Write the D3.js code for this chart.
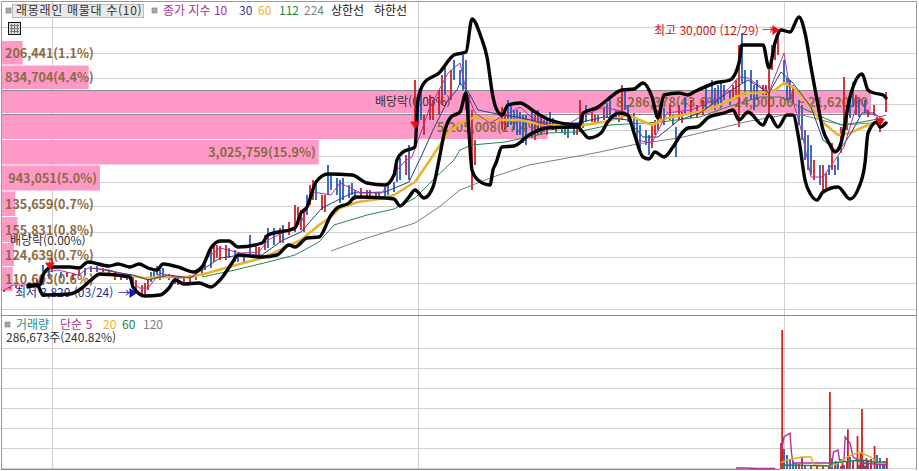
<!DOCTYPE html>
<html lang="ko"><head><meta charset="utf-8">
<script src="https://cdn.jsdelivr.net/npm/d3@7/dist/d3.min.js"></script>
<style>html,body{margin:0;background:#fff;overflow:hidden}svg{display:block}
text{font-family:"Noto Sans CJK KR","Noto Sans",sans-serif}</style></head>
<body><svg id="c" width="919" height="471"></svg>
<script>
const gridPrices=[30300,27700,25200,22600,20000,17400,14800,12400,9800,7300,4700,2100];
const gridDays=[17,139,261];
const volGrid=[0,41000,82500,123700,165000,206200,247400];
const profileEdges=[28900,26450,24000,21600,19000,16450,13850,11300,8700,6300,3800];
const profileVolumes=[206441,834704,8286378,5205008,3025759,943051,135659,155831,124639,110603];
const profileLabels=["206,441(1.1%)","834,704(4.4%)","8,286,378(43.6%)\u00a0\u00a0\u00a024,000.00 ~ 21,620.00","5,205,008(27.4%)","3,025,759(15.9%)","943,051(5.0%)","135,659(0.7%)","155,831(0.8%)","124,639(0.7%)","110,603(0.6%)"];
// [day, high, low, up]
const candles=[[1,4000,3800,1],[3,4300,4100,1],[5,4500,4200,1],[7,4500,4300,1],[9,4500,4300,0],[11,4400,4200,1],[12,5000,4200,1],[14,6500,4500,0],[16,6000,5200,0],[17,7200,5800,1],[20,5800,5200,0],[22,5800,5300,1],[24,5600,5000,1],[26,6000,5400,1],[28,6200,5500,0],[30,6400,5800,0],[32,6400,5800,0],[34,6200,5800,1],[36,6000,5500,1],[38,5800,5000,1],[40,5500,5000,1],[42,5500,5000,0],[44,5300,4700,1],[45,5000,3800,1],[47,4500,3500,1],[48,4700,3500,1],[49,5200,4000,1],[50,5800,4800,0],[51,6000,5200,0],[52,6400,5500,0],[53,6000,5000,0],[54,6200,5400,0],[56,5600,5000,0],[58,5200,4600,1],[59,5200,4500,1],[61,5400,4800,1],[63,5500,4800,1],[65,5800,5000,1],[67,6200,5400,1],[68,6800,6000,0],[70,8000,6200,0],[71,8700,6800,1],[72,8500,7200,1],[73,8400,7000,1],[75,8500,7000,1],[76,8200,7200,0],[78,8000,6800,0],[79,7700,6800,0],[81,7500,6800,0],[83,9500,7500,0],[85,8500,7200,1],[86,8300,7300,1],[88,9500,8000,1],[89,10200,8200,0],[91,10200,8500,0],[93,10200,8700,1],[94,10500,8700,0],[96,10800,9500,1],[98,12500,9800,1],[99,12300,10500,1],[100,12000,10000,1],[101,11800,9800,1],[102,13500,11500,0],[103,14500,12500,1],[104,15000,13000,1],[105,14700,13000,0],[107,13500,12000,1],[108,13500,11800,1],[109,16500,13500,0],[110,15500,14000,0],[112,15200,13500,0],[113,15000,12700,0],[114,15200,13000,0],[116,14500,13200,0],[117,14700,13500,0],[118,14000,13000,0],[120,14200,13200,1],[122,14000,13300,1],[123,14000,13200,1],[125,13800,13000,0],[126,13800,13000,1],[128,14300,13300,0],[129,14500,13500,0],[131,14800,13800,0],[132,16500,14800,0],[133,17200,15000,0],[135,17500,15500,1],[136,18500,15000,0],[138,25000,20300,1],[139,23500,20500,0],[140,24000,21000,0],[141,21500,19500,1],[143,23500,21000,1],[144,23000,21000,1],[146,24000,21500,1],[147,25500,22500,1],[148,26500,23500,0],[150,26000,23000,1],[151,27000,25000,0],[153,26000,24500,0],[154,27500,24000,0],[155,27000,22000,0],[156,23500,19000,1],[157,22000,14000,1],[158,19000,16500,1],[167,22300,20000,1],[168,21800,20000,1],[169,23000,20300,0],[170,22500,20500,0],[171,22000,20000,0],[172,22000,19500,0],[173,21800,19500,0],[174,21500,18700,0],[175,21500,18500,0],[177,22200,19200,0],[178,21500,19000,1],[179,22000,19500,0],[180,21500,19500,1],[181,21000,19800,0],[182,21000,19500,1],[183,21800,20200,0],[184,21200,20000,0],[185,20800,19800,1],[187,20700,19800,0],[188,20800,19500,0],[189,20800,19200,0],[191,20500,19500,0],[192,20500,19500,1],[193,23000,20000,1],[194,21500,20200,0],[195,22500,20800,0],[197,21800,20800,1],[198,21500,20700,1],[199,21500,20800,0],[201,22200,21000,1],[202,22700,21200,0],[203,23000,21200,0],[205,22000,21000,0],[206,21500,20800,1],[207,24500,21000,1],[208,24200,22000,0],[209,22500,20800,0],[211,21700,20000,0],[212,21200,19000,0],[213,20500,18000,0],[215,20000,18500,0],[216,19500,17500,0],[217,20500,18200,1],[218,21000,19500,1],[219,22000,20000,1],[220,22500,20800,1],[221,22200,20500,0],[223,22500,21000,1],[224,21500,20500,0],[225,20300,17300,0],[226,22500,21000,1],[227,21800,20700,1],[228,23200,21500,0],[230,23000,21200,1],[232,22500,21200,1],[234,23000,21500,1],[235,24500,22000,0],[237,25000,22500,0],[238,24200,22000,0],[239,24500,22500,0],[240,25000,22300,0],[241,24500,23000,0],[243,24000,22500,0],[244,24500,23000,1],[245,25000,23500,1],[246,28500,20300,1],[247,29700,24700,0],[248,26000,23500,0],[250,26000,23000,0],[251,24500,22000,0],[252,25000,23000,0],[254,24500,23500,1],[255,24500,23500,1],[256,26000,21500,1],[257,28500,26000,1],[258,28500,27000,1],[259,29500,27500,1],[261,27000,24500,0],[262,25200,23000,0],[263,25000,23000,0],[264,24500,22800,1],[266,23000,20500,0],[267,22500,19000,0],[268,20000,17000,0],[269,19500,16000,0],[270,18500,15500,0],[271,17000,15000,1],[273,16500,14500,0],[274,16500,14000,1],[275,15700,14000,1],[276,16500,15500,0],[277,18700,16000,1],[278,16500,15500,0],[279,17300,16000,0],[280,20300,17700,1],[281,25300,20000,1],[282,22000,20000,1],[283,23500,21200,0],[284,24800,22300,0],[285,23500,21500,1],[286,23000,21300,0],[288,23000,21700,0],[289,22000,21300,1],[291,22500,21500,1],[292,21300,20500,1],[293,20700,19800,1],[295,23800,21800,1]];
const upperBand=[[9,4500],[13,4500],[14,5500],[17,6300],[23,6300],[26,6200],[29,6800],[36,6400],[39,6600],[43,6300],[46,6600],[49,6200],[52,6000],[54,6600],[60,6200],[64,5800],[67,6300],[70,8200],[73,8900],[76,8900],[79,8300],[87,8700],[89,9500],[98,10200],[100,11700],[102,12300],[105,14800],[109,15600],[117,15500],[122,14700],[128,14500],[131,15500],[132,17000],[134,17800],[138,18300],[139,23000],[141,24700],[146,25700],[151,27500],[155,27800],[157,31100],[160,29300],[162,27300],[164,23300],[165,22200],[167,21500],[169,22500],[173,22700],[178,21800],[183,21000],[193,20500],[194,21700],[199,22300],[202,23000],[207,24000],[211,24100],[214,24700],[217,23300],[219,21200],[221,23500],[226,23700],[229,23500],[231,23800],[238,24700],[243,25000],[246,26700],[247,28500],[251,28500],[254,28500],[256,26200],[258,28700],[260,30000],[263,29800],[266,31300],[268,29700],[270,26300],[272,23000],[274,20000],[276,18700],[278,17800],[280,18700],[283,23300],[285,25000],[287,25600],[289,24000],[291,23700],[294,23500],[295,23200]];
const lowerBand=[[9,4300],[12,4500],[14,3500],[23,3600],[27,4200],[30,5000],[33,5600],[43,5300],[44,4300],[48,3400],[53,3500],[56,4200],[58,5000],[61,4600],[66,4700],[70,4300],[73,5000],[77,6700],[79,7500],[87,7300],[92,7500],[96,8500],[98,8300],[102,9200],[106,9300],[110,11500],[112,12200],[116,12700],[118,13300],[128,13200],[131,13100],[133,12400],[136,13300],[138,14000],[141,13200],[144,14300],[146,17000],[148,20000],[150,21300],[153,21800],[155,23700],[156,19700],[157,16000],[159,15000],[163,14500],[164,16000],[165,16700],[167,18300],[171,18400],[176,19500],[182,20200],[192,20300],[196,19200],[200,19700],[202,20700],[206,21700],[209,21500],[211,19700],[214,17300],[216,17100],[218,17800],[221,17300],[224,18300],[227,19700],[229,20200],[232,20300],[236,21300],[241,21700],[244,22000],[246,21000],[249,21800],[254,20500],[256,21500],[259,20300],[262,21500],[264,21500],[266,19000],[268,15000],[270,13500],[272,13000],[274,13800],[279,14300],[283,13100],[286,14300],[288,16700],[289,19700],[292,20800],[293,20300],[295,20700]];
const ma10=[[1,4000],[4,4500],[12,4500],[14,5700],[19,6000],[26,5500],[29,6200],[36,6000],[42,5500],[46,4200],[49,4200],[53,5700],[59,5200],[64,5300],[69,7300],[73,8200],[80,7700],[86,7800],[89,9000],[97,10200],[100,10700],[104,13800],[110,13500],[113,14700],[120,13700],[127,13700],[132,16000],[135,17000],[137,17300],[143,22300],[149,25700],[153,26700],[155,24000],[158,21700],[163,20700],[168,21500],[173,22300],[179,20700],[187,20200],[193,21300],[201,22300],[208,21800],[212,19000],[217,18700],[222,21700],[230,22000],[240,23300],[246,25300],[249,25200],[256,23800],[261,27700],[263,24000],[267,19700],[270,15300],[274,15300],[278,17000],[281,18300],[286,23300],[289,21700],[293,21300],[295,21500]];
const ma30=[[31,6200],[38,5800],[44,5500],[49,5000],[56,5500],[63,5200],[68,6200],[73,7200],[80,7500],[87,7500],[94,9000],[100,9800],[107,12200],[111,12800],[117,13700],[128,13800],[136,14800],[139,16700],[140,17300],[144,20000],[149,23000],[152,24000],[153,24700],[156,23700],[159,22000],[167,21500],[172,21300],[181,20700],[192,20700],[201,21300],[209,21000],[214,19300],[219,19300],[226,21000],[233,21700],[242,23700],[249,25000],[256,23700],[260,25800],[264,24700],[270,22300],[274,19000],[279,17800],[283,19500],[287,21700],[291,21700],[294,21000]];
const ma60=[[33,5500],[42,5500],[48,5200],[56,5300],[63,5300],[69,5700],[76,6300],[87,7200],[93,8000],[100,9000],[106,10500],[110,11300],[113,12200],[119,12800],[126,13100],[131,13500],[138,14800],[143,17000],[149,19700],[153,20700],[158,21300],[165,21000],[173,21000],[181,20500],[192,20400],[201,20800],[209,21500],[213,21000],[217,20500],[222,21200],[231,21700],[238,22300],[248,23700],[253,23700],[258,24000],[261,24700],[264,24300],[269,22700],[273,21000],[279,19500],[283,19700],[289,20500],[294,20900]];
const ma112=[[67,5300],[78,6000],[89,6800],[98,7500],[106,8800],[111,10500],[122,11500],[131,12100],[138,13200],[144,15000],[151,17000],[153,18000],[157,18500],[168,18800],[182,19700],[192,19800],[203,20500],[220,20800],[233,21300],[242,22300],[253,23300],[260,23300],[267,22200],[276,21000],[280,20500],[287,20800],[294,21200]];
const ma224=[[110,7900],[122,9200],[138,10700],[146,12300],[153,14000],[164,15300],[176,16500],[198,17700],[212,18600],[226,19200],[240,20200],[248,20800],[261,21500],[267,21500],[276,20800],[281,20500],[294,20800]];
// [day, volume, up]
const volumeBars=[[260,53600,1],[260.4,286673,1],[261,41000,0],[262,29000,0],[263,20600,0],[264,16500,0],[265,12400,0],[266,10300,1],[267,24700,1],[268,8200,0],[270,8200,1],[272,8200,1],[274,6200,1],[276,8200,0],[278,6200,1],[280,6200,1],[282,6200,0],[284,6200,1],[286,8200,0],[288,6200,1],[290,6200,1],[292,8200,1],[294,8200,0],[276.3,159000,1],[277,22700,0],[278.2,16500,0],[279,14400,0],[280.5,12400,1],[281,8200,0],[282,14400,1],[282.3,82000,1],[283,24700,0],[284,16500,1],[285.5,68000,1],[286.5,33000,1],[287,124000,1],[287.5,16500,0],[288.5,22700,1],[289,18500,0],[290,20600,1],[291.2,47400,1],[292,29000,0],[293,22700,0],[294.5,16500,0],[295.3,22700,1]];
const volMa5=[[260,33000],[261,66000],[263,74000],[263.5,33000],[264,12400],[277,12400],[277.5,35000],[279,39000],[279.5,18500],[281,18500],[281.4,66000],[283,53600],[284,25000],[287,12400],[295,8200]];
const volMa20=[[260,12400],[262,18500],[267,24700],[270,24700],[271,8200],[277,6200],[279,12400],[282,24700],[286,35000],[290,24700],[292,12400],[295,12400]];
const volMa60=[[260,4100],[261,8200],[276,6200],[277,12400],[287,18500],[291,14400],[295,14400]];
const volFlat=[[245,2000],[248,2000],[252,1000],[258,1000]];
const priceLegend=[["종가 지수 10","#a8309a",163],["30","#1f3f8f",239],["60","#e8b52e",258],["112","#23864f",279],["224","#808080",304],["상한선","#111",331],["하한선","#111",374]];
const volLegend=[["거래량","#2c8a8a",16],["단순 5","#a8309a",60],["20","#e8b52e",103],["60","#23864f",122],["120","#808080",143]];

const svg=d3.select("#c");
const x=d3.scaleLinear().domain([0,295]).range([1,886]);
const y=d3.scaleLinear().domain([0,33000]).range([330,0]);
const v=d3.scaleLinear().domain([0,286673]).range([469,330]);
const w=d3.scaleLinear().domain([0,8286378]).range([1,871]);
const line=(sc,c)=>d3.line().x(d=>x(d[0])).y(d=>sc(d[1])).curve(c||d3.curveLinear);
const FR="#d0d0d0";

// grid
svg.append("g").selectAll("line").data(gridPrices).join("line").attr("x1",1).attr("x2",916).attr("y1",d=>Math.round(y(d))+.5).attr("y2",d=>Math.round(y(d))+.5).attr("stroke",FR);
svg.append("g").selectAll("line").data(volGrid).join("line").attr("x1",1).attr("x2",916).attr("y1",d=>Math.round(v(d))-.5).attr("y2",d=>Math.round(v(d))-.5).attr("stroke",FR);
svg.append("g").selectAll("line").data(gridDays).join("line").attr("x1",d=>Math.round(x(d))+.5).attr("x2",d=>Math.round(x(d))+.5).attr("y1",2).attr("y2",470).attr("stroke",FR);

// volume profile
const prof=svg.append("g");
prof.selectAll("rect").data(profileVolumes).join("rect").attr("x",1).attr("width",d=>w(d)-1)
 .attr("y",(d,i)=>y(profileEdges[i])).attr("height",(d,i)=>y(profileEdges[i+1])-y(profileEdges[i])-1).attr("fill","#ff99c8");
prof.selectAll("line").data(profileEdges.slice(2,4)).join("line").attr("x1",1).attr("x2",w(profileVolumes[2])).attr("y1",d=>y(d)+.5).attr("y2",d=>y(d)+.5).attr("stroke","#8a8a8a");

// frame
svg.append("path").attr("d","M1.5,470V1.5H916.5V470").attr("fill","none").attr("stroke","#9a9a9a");
svg.append("line").attr("x1",1).attr("x2",917).attr("y1",315.5).attr("y2",315.5).attr("stroke","#8a8a8a");
svg.append("line").attr("x1",1).attr("x2",780).attr("y1",469.5).attr("y2",469.5).attr("stroke","#8a8a8a");

// profile labels
const labelG=svg.append("g").attr("font-size",12.5).attr("font-weight",700).attr("fill","#8a6b42");
labelG.selectAll("text").data(profileLabels).join("text")
 .text(d=>d)
 .attr("y",(d,i)=>(y(profileEdges[i])+y(profileEdges[i+1]))/2+4.5)
 .attr("x",function(d,i){const wd=w(profileVolumes[i]),t=this.getComputedTextLength();return wd>t+4?wd-t-3:5;});

// other annotations beneath the marks
const note=(t,px,py,fill)=>svg.append("text").text(t).attr("x",px).attr("y",py).attr("font-size",12).attr("fill",fill);
note("배당락(0.00%)",375,106,"#333");
note("배당락(0.00%)",10,245,"#333");
note("최저 3,820 (03/24)",15,297,"#1a2f9a");
note("→",118,298,"#1a2f9a");
note("최고 30,000 (12/29)",654,35,"#c4161c");
note("→",762,35,"#c4161c");

// candles
svg.append("g").selectAll("line").data(candles).join("line")
 .attr("x1",d=>x(d[0])).attr("x2",d=>x(d[0])).attr("y1",d=>y(d[1])).attr("y2",d=>y(d[2]))
 .attr("stroke",d=>d[3]?"#cc2222":"#2a5cb8").attr("stroke-width",1.8);

// moving averages
[[ma224,"#7d7d7d",1],[ma112,"#23864f",1],[ma60,"#e8b52e",2.6],[ma30,"#1f3f8f",1],[ma10,"#b0309c",1]].forEach(([s,c,sw])=>
 svg.append("path").attr("d",line(y)(s)).attr("fill","none").attr("stroke",c).attr("stroke-width",sw).attr("stroke-linejoin","round"));

// envelope
[upperBand,lowerBand].forEach(s=>svg.append("path").attr("d",line(y,d3.curveMonotoneX)(s)).attr("fill","none").attr("stroke","#050505").attr("stroke-width",3.4).attr("stroke-linejoin","round").attr("stroke-linecap","round"));

// markers
const tri=(px,py,dir,fill)=>svg.append("path").attr("transform",`translate(${px},${py}) rotate(${dir})`).attr("d","M-5,-3.5H5L0,4Z").attr("fill",fill);
tri(x(16.3),y(6400),0,"#ee1111");
tri(x(138),y(20500),0,"#ee1111");
tri(x(258.3),y(30000),-90,"#ee1111");
tri(x(293),y(20800),0,"#ee1111");
tri(x(44),y(3700),-90,"#1111cc");
svg.append("line").attr("x1",x(16.3)).attr("x2",x(16.3)).attr("y1",y(7200)).attr("y2",y(6400)).attr("stroke","#cc2222");

// volume
svg.append("g").selectAll("line").data(volumeBars).join("line")
 .attr("x1",d=>x(d[0])).attr("x2",d=>x(d[0])).attr("y1",d=>v(d[1])).attr("y2",v(0))
 .attr("stroke",d=>d[2]?"#cc2222":"#2a5cb8").attr("stroke-width",1.8);
[[volFlat,"#b0309c"],[volMa5,"#b0309c"],[volMa20,"#e0b020"],[volMa60,"#23864f"]].forEach(([s,c])=>
 svg.append("path").attr("d",line(v)(s)).attr("fill","none").attr("stroke",c).attr("stroke-width",1.4));

// header
const sq=(px,py)=>svg.append("rect").attr("x",px).attr("y",py).attr("width",5).attr("height",5).attr("fill","#a8a8a8").attr("stroke","#777").attr("stroke-width",.6);
svg.append("rect").attr("x",12.5).attr("y",4.5).attr("width",131).attr("height",13).attr("fill","#e9e9e9").attr("stroke","#bbb");
sq(6,8);
note("래몽래인 매물대 수(10)",16,15,"#333").attr("letter-spacing",.7);
sq(152,8);
priceLegend.forEach(([t,c,px])=>note(t,px,15,c));
svg.append("rect").attr("x",8.5).attr("y",22.5).attr("width",12).attr("height",12).attr("fill","#ddd").attr("stroke","#111");
[25,28,31].forEach(p=>svg.append("line").attr("x1",10).attr("x2",19).attr("y1",p+.5).attr("y2",p+.5).attr("stroke","#777"));
[11,14,17].forEach(p=>svg.append("line").attr("x1",p+.5).attr("x2",p+.5).attr("y1",24).attr("y2",33).attr("stroke","#777"));

sq(5,322);
volLegend.forEach(([t,c,px])=>note(t,px,329,c));
note("286,673주(240.82%)",6,342,"#333");
</script></body></html>
